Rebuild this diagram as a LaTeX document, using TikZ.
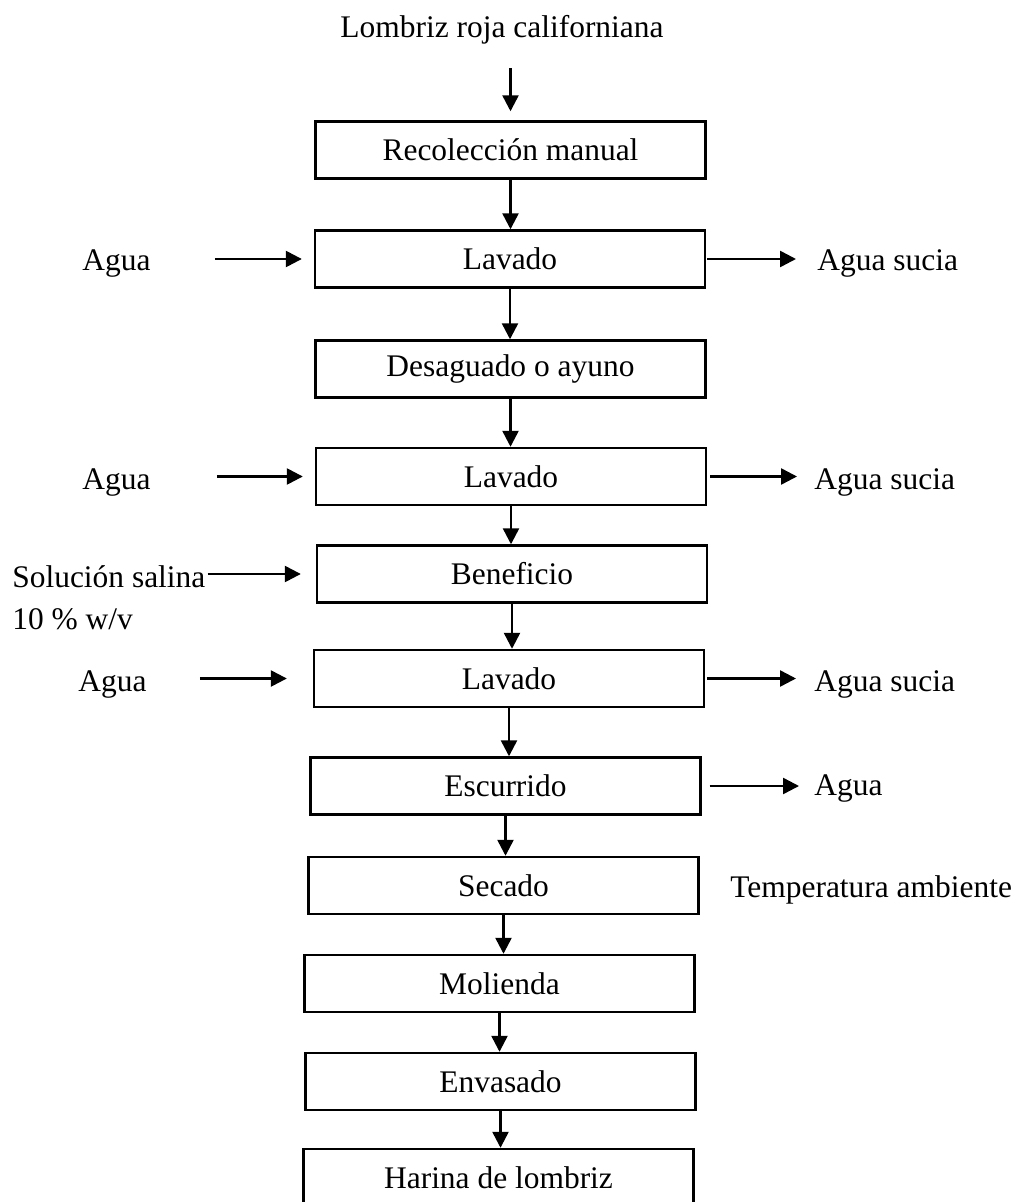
\documentclass[tikz,border=0pt]{standalone}
\usepackage{fontspec}
\setmainfont{Liberation Serif}
\usetikzlibrary{arrows.meta}

\begin{document}
\begin{tikzpicture}[x=0.02cm, y=-0.02cm, font=\fontsize{17.9}{21}\selectfont,
		stepbox/.style={draw, line width=1.4pt, minimum width=7.8cm, minimum height=1.14cm, inner sep=0pt},
		side/.style={inner sep=0pt, anchor=base west},
		flow/.style={line width=1.4pt, -{Triangle[length=0.32cm, width=0.32cm]}}]
	\useasboundingbox (0,0) rectangle (1019,1202);

	% Main process column
	\node[inner sep=0pt, anchor=base] (lombriz) at (502,38) {Lombriz roja californiana};
	\node[stepbox] (recol) at (510.5,150) {Recolección manual};
	\node[stepbox] (lavado1) at (510,259) {Lavado};
	\node[stepbox] (ayuno) at (510.5,369) {Desaguado o ayuno};
	\node[stepbox] (lavado2) at (511,476.5) {Lavado};
	\node[stepbox] (benef) at (512,574) {Beneficio};
	\node[stepbox] (lavado3) at (509,678.5) {Lavado};
	\node[stepbox] (escur) at (505.5,786) {Escurrido};
	\node[stepbox] (secado) at (503.5,885.5) {Secado};
	\node[stepbox] (molienda) at (499.5,983.5) {Molienda};
	\node[stepbox] (envasado) at (500.5,1081.5) {Envasado};
	\node[stepbox] (harina) at (498.5,1177.5) {Harina de lombriz};

	% Inputs (left)
	\node[side] (agua1) at (82,271) {Agua};
	\node[side] (agua2) at (82,489) {Agua};
	\node[side] (salina) at (12,587) {Solución salina};
	\node[side] (salpct) at (12,629) {10 \% w/v};
	\node[side] (agua3) at (78,691) {Agua};

	% Outputs (right)
	\node[side] (sucia1) at (817,271) {Agua sucia};
	\node[side] (sucia2) at (814,489) {Agua sucia};
	\node[side] (sucia3) at (814,691) {Agua sucia};
	\node[side] (aguaesc) at (814,795) {Agua};
	\node[side] (temp) at (730,897) {Temperatura ambiente};

	% Vertical flow
	\draw[flow, shorten <=0.46cm, shorten >=0.18cm] (recol.north |- lombriz.south) -- (recol.north);
	\draw[flow] (recol.south) -- (recol.south |- lavado1.north);
	\draw[flow] (lavado1.south) -- (lavado1.south |- ayuno.north);
	\draw[flow] (ayuno.south) -- (ayuno.south |- lavado2.north);
	\draw[flow] (lavado2.south) -- (lavado2.south |- benef.north);
	\draw[flow] (benef.south) -- (benef.south |- lavado3.north);
	\draw[flow] (lavado3.south) -- (lavado3.south |- escur.north);
	\draw[flow] (escur.south) -- (escur.south |- secado.north);
	\draw[flow] (secado.south) -- (secado.south |- molienda.north);
	\draw[flow] (molienda.south) -- (molienda.south |- envasado.north);
	\draw[flow] (envasado.south) -- (envasado.south |- harina.north);

	% Side arrows
	\draw[flow, shorten <=1.28cm, shorten >=0.24cm] (agua1.east |- lavado1.west) -- (lavado1.west);
	\draw[flow, shorten <=1.32cm, shorten >=0.24cm] (agua2.east |- lavado2.west) -- (lavado2.west);
	\draw[flow, shorten <=0.04cm, shorten >=0.3cm] (salina.east |- benef.west) -- (benef.west);
	\draw[flow, shorten <=1.06cm, shorten >=0.52cm] (agua3.east |- lavado3.west) -- (lavado3.west);
	\draw[flow, shorten <=0.02cm, shorten >=0.42cm] (lavado1.east) -- (lavado1.east -| sucia1.west);
	\draw[flow, shorten <=0.06cm, shorten >=0.34cm] (lavado2.east) -- (lavado2.east -| sucia2.west);
	\draw[flow, shorten <=0.04cm, shorten >=0.36cm] (lavado3.east) -- (lavado3.east -| sucia3.west);
	\draw[flow, shorten <=0.16cm, shorten >=0.3cm] (escur.east) -- (escur.east -| aguaesc.west);
\end{tikzpicture}
\end{document}
